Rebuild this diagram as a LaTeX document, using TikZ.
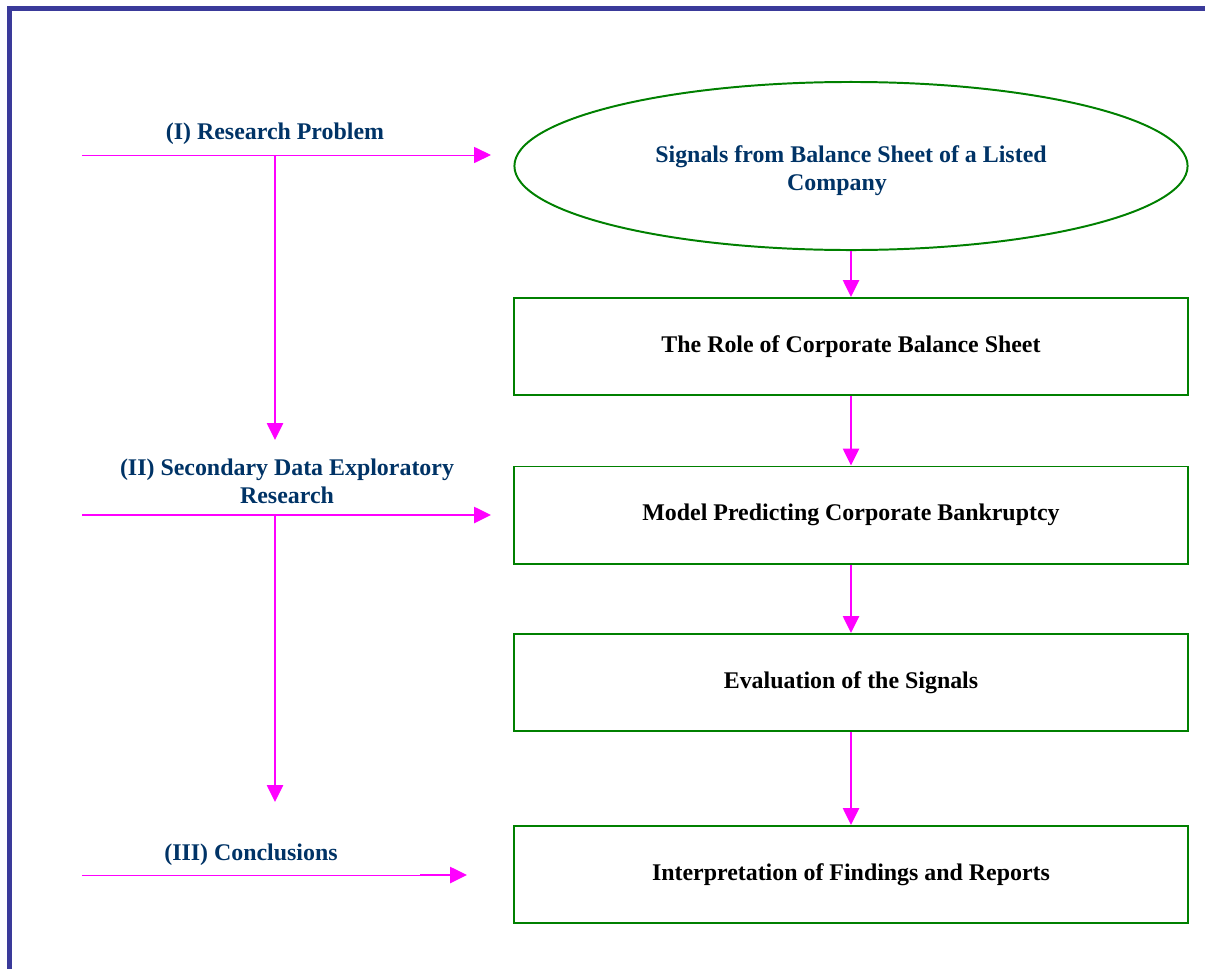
\documentclass[tikz,border=0pt]{standalone}
\usepackage{fontspec}
\setmainfont{Liberation Serif}
\usetikzlibrary{arrows.meta,shapes.geometric}
\definecolor{framecol}{RGB}{58,58,154}
\definecolor{labelcol}{RGB}{0,51,102}
\definecolor{boxgreen}{RGB}{0,128,0}
\definecolor{linkcol}{RGB}{255,0,255}
\begin{document}
\begin{tikzpicture}[x=0.025cm,y=-0.025cm,
    box/.style={draw=boxgreen, line width=1.4pt, minimum width=16.825cm, minimum height=2.425cm},
    oval/.style={ellipse, draw=boxgreen, line width=1.4pt, minimum width=16.825cm, minimum height=4.2cm, text=labelcol, align=center},
    lbl/.style={text=labelcol, align=center},
    flow/.style={linkcol, line width=1.4pt, -{Triangle[length=0.42cm,width=0.4cm]}},
    thinflow/.style={linkcol, line width=0.7pt, -{Triangle[length=0.42cm,width=0.4cm]}}]
  \useasboundingbox (0,0) rectangle (1205,968);
  \fontsize{17}{20}\selectfont\bfseries
  % outer frame, only top and left edges show
  \draw[framecol, line width=3.2pt] (9.5,1000) -- (9.5,8.5) -- (1240,8.5);

  % right hand column
  \node[oval] (signals) at (851,166) {\\[-2pt]Signals from Balance Sheet of a Listed\\Company\hspace*{0.7cm}};
  \node[box] (role) at (851,346.5) {The Role of Corporate Balance Sheet};
  \node[box] (model) at (851,515) {Model Predicting Corporate Bankruptcy};
  \node[box] (eval) at (851,682.5) {Evaluation of the Signals};
  \node[box] (interp) at (851,874.5) {Interpretation of Findings and Reports};
  \draw[flow] (signals) -- (role);
  \draw[flow] (role) -- (model);
  \draw[flow] (model) -- (eval);
  \draw[flow] (eval) -- (interp);

  % left hand stages
  \node[lbl] (prob) at (275,134) {(I) Research Problem};
  \node[lbl] (second) at (287,481) {(II) Secondary Data Exploratory\\Research};
  \node[lbl] (concl) at (251,855) {(III) Conclusions};

  \coordinate (s1) at (82,155);
  \coordinate (j1) at (275,155);
  \coordinate (e1) at (491,155);
  \coordinate (d1) at (275,440);
  \coordinate (s2) at (82,515);
  \coordinate (j2) at (275,515);
  \coordinate (e2) at (491,515);
  \coordinate (d2) at (275,802);
  \coordinate (s3) at (82,875);
  \coordinate (m3) at (420,875);
  \coordinate (e3) at (467,875);

  \draw[thinflow] (s1) -- (e1);
  \draw[flow] (j1) -- (d1);
  \draw[flow] (s2) -- (e2);
  \draw[flow] (j2) -- (d2);
  \draw[linkcol, line width=0.7pt] (s3) -- (m3);
  \draw[flow] (m3) -- (e3);
\end{tikzpicture}
\end{document}
